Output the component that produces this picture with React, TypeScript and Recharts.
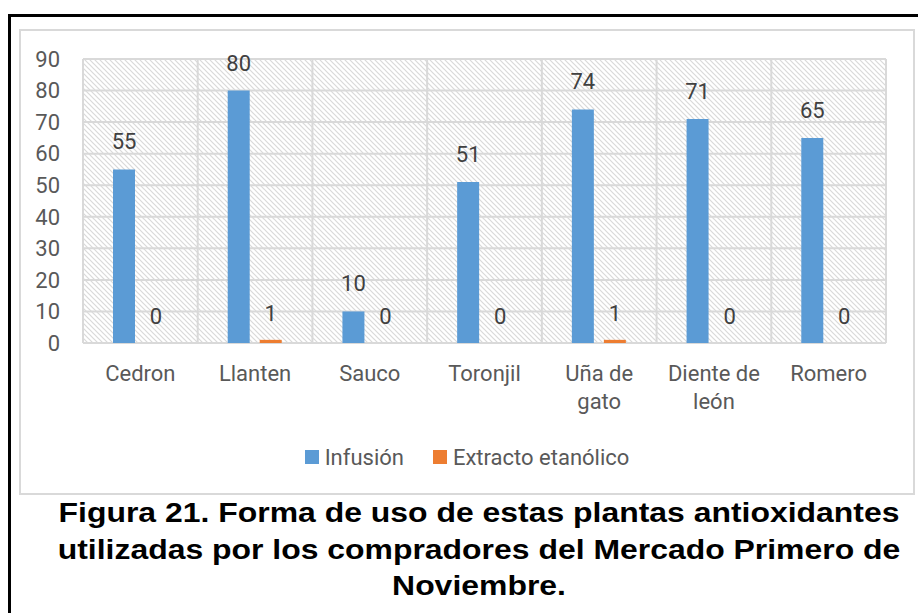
import React from 'react'
import { BarChart, Bar, XAxis, YAxis, CartesianGrid, LabelList, Legend } from 'recharts'

// Plants and counts per way of use
const plants = ['Cedron', 'Llanten', 'Sauco', 'Toronjil', 'Uña de gato', 'Diente de león', 'Romero']
const infusion = [55, 80, 10, 51, 74, 71, 65]
const extracto = [0, 1, 0, 0, 1, 0, 0]
const yTicks = [0, 10, 20, 30, 40, 50, 60, 70, 80, 90]

const seriesNames = { infusion: 'Infusión', extracto: 'Extracto etanólico' }
const colors = { infusion: '#5B9BD5', extracto: '#ED7D31' }

const chartData = plants.map((name, i) => ({
  name,
  infusion: infusion[i],
  extracto: extracto[i],
}))

const FONT = 'Roboto, "Noto Sans", sans-serif'
const TEXT_COLOR = '#595959'

// long names wrap before the last word, the way Excel did it
const splitLabel = (label: string) => {
  const words = label.split(' ')
  if (label.length <= 9 || words.length < 2) return [label]
  return [words.slice(0, -1).join(' '), words[words.length - 1]]
}

const CategoryTick = (props: any) => {
  const { x, y, payload } = props
  const lines = splitLabel(String(payload.value))
  return (
    <text x={x} y={y} textAnchor="middle" fontSize={22} fontFamily={FONT} fill={TEXT_COLOR}>
      {lines.map((line, i) => (
        <tspan key={i} x={x} dy={i === 0 ? 38 : 28}>
          {line}
        </tspan>
      ))}
    </text>
  )
}

const LegendContent = () => (
  <div
    style={{
      display: 'flex',
      justifyContent: 'center',
      alignItems: 'center',
      height: 30,
      fontFamily: FONT,
      fontSize: 22,
      color: TEXT_COLOR,
    }}
  >
    {(['infusion', 'extracto'] as const).map((key, i) => (
      <div key={key} style={{ display: 'flex', alignItems: 'center', marginLeft: i ? 29 : 0 }}>
        <span style={{ width: 14, height: 14, background: colors[key], marginRight: 6 }} />
        <span>{seriesNames[key]}</span>
      </div>
    ))}
  </div>
)

// vertical grid lines sit on category boundaries, like Excel
const boundaryLines = ({ offset }: any) => {
  const lines: number[] = []
  for (let i = 0; i <= plants.length; i++) {
    lines.push(offset.left + (i * offset.width) / plants.length)
  }
  return lines
}

export default function App() {
  return (
    <div
      style={{
        position: 'absolute',
        left: 0,
        top: 0,
        width: 918,
        height: 613,
        background: '#fff',
        overflow: 'hidden',
      }}
    >
      <div
        style={{
          position: 'absolute',
          left: 8,
          top: 14,
          width: 930,
          height: 640,
          borderLeft: '3px solid #000',
          borderTop: '3px solid #000',
          boxSizing: 'border-box',
        }}
      />
      <div
        style={{
          position: 'absolute',
          left: 19,
          top: 29,
          width: 896,
          height: 466,
          border: '2px solid #d9d9d9',
          boxSizing: 'border-box',
        }}
      />
      <div style={{ position: 'absolute', left: 19, top: 29 }}>
        <BarChart
          width={896}
          height={466}
          data={chartData}
          margin={{ top: 30, right: 29, left: 0, bottom: 23 }}
          barSize={22}
          barGap={10}
        >
          <defs>
            <pattern id="hatch" width="5" height="5" patternUnits="userSpaceOnUse">
              <rect width="5" height="5" fill="#fff" />
              <path d="M0,0 L5,5 M-1,4 L1,6 M4,-1 L6,1" stroke="#d9d9d9" strokeWidth={1.2} />
            </pattern>
          </defs>
          <CartesianGrid
            fill="url(#hatch)"
            stroke="#d9d9d9"
            strokeWidth={2}
            verticalCoordinatesGenerator={boundaryLines}
          />
          <XAxis
            dataKey="name"
            axisLine={false}
            tickLine={false}
            tickSize={0}
            tickMargin={0}
            height={99}
            interval={0}
            tick={<CategoryTick />}
          />
          <YAxis
            domain={[0, 90]}
            ticks={yTicks}
            width={64}
            axisLine={false}
            tickLine={false}
            tickMargin={17}
            tick={{ fontSize: 22, fontFamily: FONT, fill: TEXT_COLOR }}
          />
          <Legend
            content={<LegendContent />}
            verticalAlign="bottom"
            wrapperStyle={{ left: 0, width: 896 }}
          />
          <Bar
            dataKey="infusion"
            name={seriesNames.infusion}
            fill={colors.infusion}
            minPointSize={0.01}
            isAnimationActive={false}
          >
            <LabelList
              dataKey="infusion"
              position="top"
              offset={20}
              fontSize={22}
              fontFamily={FONT}
              fill="#404040"
            />
          </Bar>
          <Bar
            dataKey="extracto"
            name={seriesNames.extracto}
            fill={colors.extracto}
            minPointSize={0.01}
            isAnimationActive={false}
          >
            <LabelList
              dataKey="extracto"
              position="top"
              offset={19}
              fontSize={22}
              fontFamily={FONT}
              fill="#404040"
            />
          </Bar>
        </BarChart>
      </div>
      <div
        style={{
          position: 'absolute',
          left: 479 - 500,
          top: 495,
          width: 1000,
          textAlign: 'center',
          fontFamily: '"Liberation Sans", Arial, sans-serif',
          fontWeight: 'bold',
          fontSize: 28,
          lineHeight: '36.5px',
          color: '#000',
          whiteSpace: 'nowrap',
          transform: 'scaleX(1.14)',
        }}
      >
        Figura 21. Forma de uso de estas plantas antioxidantes
        <br />
        utilizadas por los compradores del Mercado Primero de
        <br />
        Noviembre.
      </div>
    </div>
  )
}
